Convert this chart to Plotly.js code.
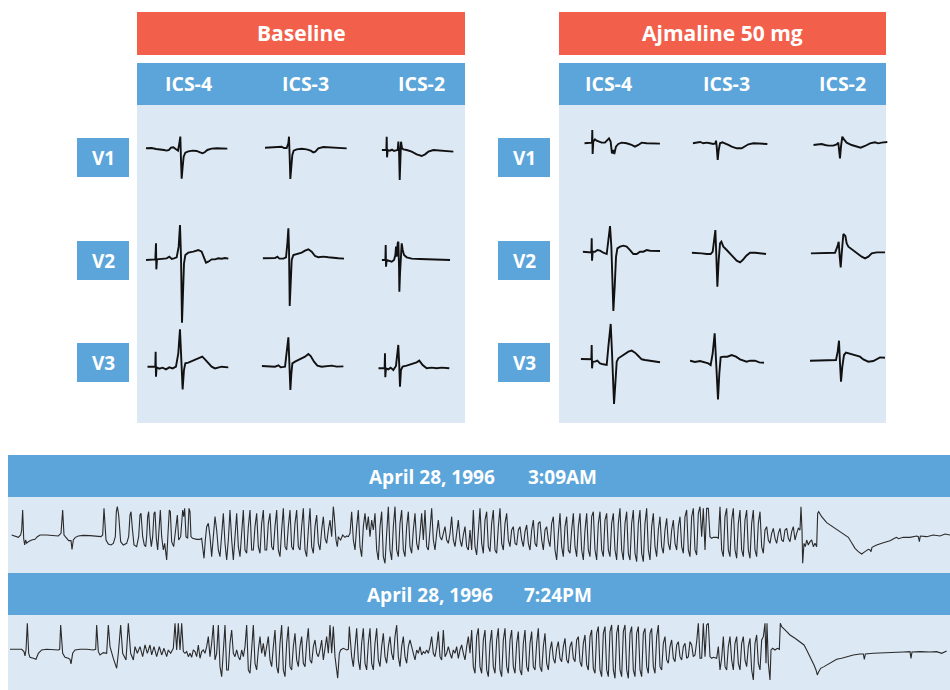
<!DOCTYPE html>
<html><head><meta charset="utf-8">
<script src="https://cdn.plot.ly/plotly-3.0.1.min.js"></script>
<style>html,body{margin:0;padding:0;background:#fff}</style>
</head><body><div id="chart" style="width:950px;height:690px"></div>
<script>
// ---------- DATA: each complex as [time, amplitude] samples (arbitrary units) ----------
const panels = ["Baseline", "Ajmaline 50 mg"];
const icsLabels = ["ICS-4", "ICS-3", "ICS-2"];
const leads = ["V1", "V2", "V3"];
const strip1Date = "April 28, 1996", strip1Time = "3:09AM";
const strip2Date = "April 28, 1996", strip2Time = "7:24PM";

const b_v1_ics4 = [[0,0],[17,1],[30,-2],[42,-3],[54,-5],[62,-7],[69,-5],[75,2],[82,3],[90,-3],[96,-7],[100,15],[103,35],[105,-35],[107,-91],[110,-55],[113,-25],[118,-13],[127,-9],[140,-7],[152,-8],[162,-12],[170,-15],[177,-11],[184,-5],[197,-1],[212,0],[244,-1]];
const b_v1_ics3 = [[0,0],[15,1],[30,0],[43,2],[50,3],[57,-1],[65,-1],[70,13],[72,33],[74,-27],[76,-94],[79,-57],[82,-22],[86,-9],[95,-5],[110,-3],[125,-5],[137,-9],[145,-14],[151,-12],[160,-2],[175,2],[195,1],[215,0],[245,-2]];
const b_v1_ics2 = [[0,0],[11,0],[14,0],[15,40],[16,-22],[18,0],[25,-2],[31,1],[37,-3],[43,-1],[48,0],[50,25],[52,-2],[54,-90],[56,-30],[58,25],[61,5],[65,2],[75,0],[90,-5],[105,-13],[120,-18],[130,-13],[140,-5],[155,0],[175,-2],[215,-5]];
const b_v2_ics4 = [[0,0],[22,0],[28,2],[30,50],[31,-28],[33,2],[42,3],[52,2],[62,5],[70,10],[77,3],[84,5],[92,8],[98,40],[102,105],[105,10],[108,-188],[111,-100],[114,-10],[118,15],[127,22],[142,25],[157,30],[167,25],[174,5],[180,-8],[187,-5],[197,2],[207,2],[217,5],[227,4],[237,6],[247,4]];
const b_v2_ics3 = [[0,0],[22,0],[37,1],[44,5],[50,-1],[62,-1],[70,3],[74,45],[77,90],[79,25],[81,-143],[84,-75],[87,-5],[92,10],[102,13],[117,17],[127,23],[137,27],[147,20],[157,7],[167,3],[182,5],[197,3],[212,1],[227,0],[244,-1]];
const b_v2_ics2 = [[0,0],[9,0],[11,0],[12,45],[13,-20],[15,0],[23,-2],[30,-5],[37,0],[41,15],[43,40],[45,10],[48,50],[50,55],[52,-20],[53,-95],[55,-40],[58,30],[60,50],[63,30],[67,15],[75,8],[90,4],[115,3],[145,2],[175,2],[205,0]];
const b_v3_ics4 = [[0,0],[18,0],[24,0],[25,45],[26,-30],[28,-2],[36,-6],[46,-3],[56,-8],[66,-2],[76,-5],[86,0],[93,40],[98,112],[102,30],[106,-68],[110,-10],[114,10],[123,12],[138,18],[153,25],[165,30],[173,22],[183,10],[193,0],[203,-5],[213,-2],[223,0],[243,-2]];
const b_v3_ics3 = [[0,0],[20,0],[40,-2],[50,2],[57,-4],[70,-2],[75,38],[80,86],[83,8],[86,-72],[89,-22],[92,8],[100,13],[115,20],[130,28],[140,36],[147,30],[157,13],[167,1],[180,-2],[195,0],[210,1],[225,-2],[245,-1]];
const b_v3_ics2 = [[0,0],[15,0],[19,0],[20,45],[21,-27],[23,0],[30,-3],[37,2],[45,-5],[53,7],[60,70],[63,5],[65,-55],[68,-5],[73,5],[85,8],[100,13],[115,18],[123,23],[133,10],[145,0],[160,2],[175,0],[190,2],[213,0]];

const a_v1_ics4 = [[0,0],[17,2],[23,2],[24,40],[25,-32],[27,5],[32,12],[37,8],[45,5],[52,2],[62,2],[69,8],[74,15],[79,5],[83,-30],[87,-20],[90,-32],[95,-10],[102,-2],[112,2],[127,0],[142,-5],[152,-10],[162,-5],[172,2],[187,0],[207,0],[227,-1]];
const a_v1_ics3 = [[0,0],[12,2],[22,4],[32,0],[42,2],[52,0],[62,-2],[68,0],[70,8],[72,-10],[75,-50],[78,-20],[82,0],[89,3],[97,0],[107,-5],[117,-10],[132,-15],[147,-15],[157,-10],[167,-3],[182,0],[202,-1],[224,-2]];
const a_v1_ics2 = [[0,0],[15,1],[25,3],[35,0],[45,-2],[60,-2],[70,2],[75,7],[77,-15],[80,-40],[83,-5],[87,25],[92,17],[100,7],[115,0],[130,-5],[142,-8],[155,-3],[170,5],[185,8],[195,5],[205,7],[222,9]];
const a_v2_ics4 = [[0,0],[17,-2],[26,-2],[27,40],[28,-27],[30,0],[37,0],[44,5],[52,3],[62,-3],[72,-7],[77,35],[82,77],[86,15],[89,-85],[92,-178],[96,-105],[100,-15],[104,10],[112,15],[122,18],[132,15],[142,5],[152,-7],[162,-7],[172,0],[182,0],[192,5],[202,3],[217,2],[232,2]];
const a_v2_ics3 = [[0,0],[15,0],[30,-2],[45,-4],[57,-4],[63,3],[67,38],[71,68],[74,-12],[77,-102],[81,-22],[85,28],[89,33],[95,18],[105,8],[115,-2],[125,-12],[135,-24],[145,-29],[153,-22],[163,-10],[175,0],[190,0],[205,-2],[223,-4]];
const a_v2_ics2 = [[0,-2],[23,-1],[43,0],[63,1],[73,0],[80,18],[84,33],[87,-12],[90,-44],[93,-2],[96,38],[98,56],[104,50],[108,28],[113,18],[123,10],[138,-2],[153,-12],[163,-17],[173,-12],[183,-2],[198,1],[223,1]];
const a_v3_ics4 = [[0,1],[18,0],[32,0],[33,43],[34,-27],[36,-7],[43,-7],[50,-4],[58,-12],[68,-15],[78,-17],[83,38],[90,106],[94,18],[97,-72],[100,-134],[104,-72],[108,-7],[113,3],[123,10],[133,18],[143,23],[153,26],[163,20],[173,10],[183,0],[193,-2],[203,-4],[218,-7],[238,-9]];
const a_v3_ics3 = [[0,0],[15,-4],[30,-1],[45,-6],[55,-8],[62,-13],[68,22],[74,82],[78,2],[81,-58],[84,-116],[88,-38],[92,10],[100,12],[112,12],[125,17],[138,12],[150,4],[160,0],[170,-3],[180,0],[195,0],[208,-5],[222,-6]];
const a_v3_ics2 = [[0,0],[25,0],[50,0],[70,1],[78,2],[83,27],[87,60],[90,-8],[93,-63],[97,-18],[102,17],[108,24],[120,20],[135,17],[150,12],[160,4],[175,-3],[190,-1],[200,4],[210,10],[225,9]];

const strip1 = [[35,0],[45,-3],[55,-7],[62,0],[65,15],[68,75],[71,-10],[74,-30],[77,-15],[80,-25],[85,-20],[95,-15],[105,-13],[112,-5],[120,0],[140,0],[160,-2],[175,-3],[183,5],[188,75],[192,0],[200,-10],[206,-17],[213,-17],[216,-43],[220,-15],[226,-7],[235,-3],[250,-1],[270,-2],[290,-3],[303,-5],[308,0],[312,80],[318,-15],[325,-27],[333,-30],[340,-25],[346,-5],[349,70],[352,85],[356,60],[362,-20],[370,-30],[380,-25],[386,-5],[390,60],[393,70],[397,20],[402,-30],[410,-35],[416,-5],[420,60],[423,65],[428,-5],[433,-30],[437,-35],[440,-5],[443,55],[446,70],[450,0],[454,-35],[458,-5],[462,65],[465,70],[469,-10],[473,-45],[477,15],[481,75],[485,-5],[490,-45],[494,-25],[500,-75],[504,5],[508,75],[511,70],[515,-20],[521,-35],[527,25],[532,60],[536,-15],[542,-5],[548,75],[551,55],[554,80],[558,-5],[563,-10],[567,80],[570,70],[573,-5],[578,-10],[590,-13],[600,-13],[605,-10],[609,-45],[612,-70],[616,-15],[620,25],[625,35],[630,-5],[635,-65],[640,-5],[645,55],[650,15],[655,-45],[660,-65],[665,-5],[670,65],[675,-25],[680,-75],[685,-15],[690,75],[695,-15],[700,-75],[705,-5],[710,65],[715,-35],[720,-65],[725,5],[730,75],[735,-45],[740,-55],[745,25],[750,75],[755,-45],[760,-45],[765,25],[770,65],[775,-35],[780,-55],[785,35],[790,75],[795,-45],[800,-45],[805,35],[810,65],[815,-35],[820,-45],[825,25],[830,75],[835,-45],[840,-65],[845,15],[850,80],[855,-35],[860,-45],[865,25],[870,75],[875,-35],[880,-45],[885,35],[890,75],[895,-35],[900,-45],[905,25],[910,80],[915,-45],[920,-65],[925,15],[930,80],[935,-35],[940,-55],[945,25],[950,60],[955,-25],[960,-45],[965,15],[970,55],[975,-10],[980,-25],[985,15],[990,45],[995,-5],[1000,85],[1003,55],[1008,-15],[1012,-35],[1015,-5],[1018,-10],[1022,-15],[1028,0],[1035,-7],[1040,-3],[1045,-5],[1050,5],[1055,70],[1060,-15],[1065,-45],[1070,25],[1075,75],[1080,-35],[1085,-65],[1090,25],[1095,65],[1100,15],[1105,55],[1110,-5],[1115,45],[1120,15],[1125,65],[1130,-45],[1135,-75],[1140,25],[1145,70],[1150,-65],[1155,-85],[1160,5],[1165,85],[1170,-45],[1175,-75],[1180,25],[1185,85],[1190,-45],[1195,-65],[1200,35],[1205,75],[1210,-45],[1215,-65],[1220,25],[1225,70],[1230,-35],[1235,-55],[1240,15],[1245,65],[1250,-25],[1255,-45],[1260,5],[1265,65],[1270,-15],[1275,75],[1280,-35],[1285,-45],[1290,15],[1295,80],[1300,-15],[1305,-45],[1310,5],[1315,45],[1320,-5],[1325,-15],[1330,5],[1335,25],[1340,-15],[1345,-25],[1350,5],[1355,55],[1360,-15],[1365,-35],[1370,5],[1375,45],[1380,-15],[1385,-35],[1390,0],[1395,25],[1400,-35],[1405,-45],
[1410,15],[1415,-45],[1420,75],[1425,-35],[1430,-60],[1435,25],[1440,80],[1445,-25],[1450,-55],[1455,45],[1460,70],[1465,-35],[1470,-50],[1475,35],[1480,75],[1485,-45],[1490,-55],[1495,25],[1500,80],[1505,-25],[1510,-45],[1515,35],[1520,65],[1525,-15],[1530,-35],[1535,15],[1540,25],[1545,-25],[1550,-30],[1555,15],[1560,25],[1565,-15],[1570,-35],[1575,10],[1580,30],[1585,-25],[1590,-45],[1595,15],[1600,45],[1605,-25],[1610,-35],[1615,35],[1620,40],[1625,-15],[1630,-45],[1635,15],[1640,25],[1645,-15],[1650,-35],[1655,35],[1660,55],[1665,-45],[1670,-75],[1675,5],[1680,65],[1685,-35],[1690,-65],[1695,25],[1700,55],[1705,-45],[1710,-55],[1715,15],[1720,65],[1725,-35],[1730,-65],[1735,25],[1740,65],[1745,-45],[1750,-75],[1755,15],[1760,65],[1765,-45],[1770,-65],[1775,55],[1780,70],[1785,-45],[1790,-75],[1795,35],[1800,70],[1805,-45],[1810,-65],[1815,45],[1820,65],[1825,-45],[1830,-65],[1835,35],[1840,65],[1845,-45],[1850,-75],[1855,35],[1860,80],[1865,-45],[1870,-75],[1875,35],[1880,70],[1885,-55],[1890,-75],[1895,35],[1900,75],[1905,-55],[1910,-80],[1915,35],[1920,75],[1925,-55],[1930,-80],[1935,35],[1940,80],[1945,-45],[1950,-75],[1955,25],[1960,65],[1965,-35],[1970,-65],[1975,15],[1980,55],[1985,-35],[1990,-55],[1995,15],[2000,50],[2005,-25],[2010,-45],[2015,15],[2020,45],[2025,-25],[2030,-45],[2035,25],[2040,55],[2045,-35],[2050,-55],[2055,55],[2060,75],[2065,-45],[2070,-65],[2075,55],[2080,80],[2085,-45],[2090,-60],[2095,65],[2100,85],[2105,-5],[2110,80],[2115,-45],[2120,80],[2125,80],[2130,-5],[2135,-10],[2140,-7],[2150,-7],[2155,-10],[2160,85],[2165,-45],[2170,-65],[2175,55],[2180,80],[2185,-45],[2190,-65],[2195,45],[2200,80],[2205,-45],[2210,-70],[2215,35],[2220,75],[2225,-45],[2230,-65],[2235,45],[2240,75],[2245,-45],[2250,-70],[2255,35],[2260,75],[2265,-45],[2270,-65],[2275,35],[2280,70],[2285,-35],[2290,-55],[2295,15],[2300,25],[2305,-15],[2310,-25],[2315,5],[2320,20],[2325,-10],[2330,-25],[2335,5],[2340,20],[2345,-15],[2350,-20],[2355,15],[2360,20],[2365,-10],[2370,-20],[2375,10],[2380,25],[2385,-15],[2390,5],[2395,20],[2400,15],[2403,85],[2406,15],[2408,-85],[2412,-25],[2416,-35],[2420,-15],[2425,-30],[2430,-20],[2435,-15],[2440,-35],[2445,-25],[2450,-35],[2453,65],[2456,70],[2465,55],[2480,37],[2500,23],[2520,10],[2535,0],[2545,-7],[2555,-23],[2565,-40],[2575,-50],[2585,-57],[2595,-50],[2605,-43],[2610,-45],[2613,-50],[2616,-37],[2630,-30],[2650,-23],[2670,-17],[2685,-9],[2690,-7],[2695,-11],[2710,-7],[2730,-7],[2750,-3],[2755,-5],[2758,-20],[2761,-3],[2780,-5],[2800,0],[2820,-3],[2835,3],[2850,0]];

const strip2 = [[30,0],[65,0],[72,-7],[75,-20],[78,-2],[82,78],[86,-12],[90,-24],[100,-27],[108,-30],[115,-12],[125,-2],[140,0],[160,-2],[175,-2],[179,0],[182,73],[188,-12],[195,-24],[205,-27],[210,-30],[213,-44],[218,-12],[225,-2],[240,0],[260,0],[280,-2],[287,0],[290,73],[295,-7],[300,-17],[310,-10],[320,-12],[325,73],[330,8],[340,-27],[350,-57],[355,-12],[362,73],[368,-12],[378,-32],[385,78],[392,-12],[400,-32],[405,8],[412,-12],[420,8],[428,-22],[435,13],[442,-12],[450,13],[455,-17],[462,8],[470,-22],[478,8],[485,-17],[492,3],[500,-22],[505,-2],[512,-12],[520,3],[525,78],[530,-2],[535,78],[540,-2],[545,78],[550,-7],[555,-12],[560,-7],[565,-22],[570,-12],[575,-24],[580,-2],[585,-7],[590,-22],[595,13],[600,-27],[605,-7],[610,-2],[615,-12],[620,8],[625,38],[630,-22],[635,18],[640,73],[645,-32],[650,-12],[655,73],[660,-52],[665,-82],[670,8],[675,73],[680,-62],[685,-62],[690,18],[695,58],[700,-12],[705,-22],[710,-2],[715,-22],[720,-32],[725,-2],[730,-22],[735,8],[740,73],[745,-62],[750,-72],[755,18],[760,73],[765,-42],[770,-62],[775,-2],[780,38],[785,-12],[790,18],[795,-22],[800,8],[805,38],[810,-32],[815,-52],[820,8],[825,58],[830,-52],[835,-72],[840,18],[845,73],[850,-62],[855,-82],[860,18],[865,68],[870,-52],[875,-62],[880,8],[885,48],[890,-32],[895,-52],[900,8],[905,38],[910,-42],[915,-52],[920,18],[925,63],[930,-32],[935,-42],[940,8],[945,28],[950,-12],[955,-22],[960,-2],[965,28],[970,-32],[975,8],[980,38],[985,-12],[990,73],[995,-12],[1000,68],[1005,-22],[1010,-62],[1013,-87],[1018,-12],[1022,-2],[1030,3],[1040,-2],[1045,0],[1048,68],[1055,-22],[1060,-52],[1065,8],[1070,63],[1075,-32],[1080,-62],[1085,18],[1090,63],[1095,-42],[1100,-62],[1105,18],[1110,63],[1115,-42],[1120,-62],[1125,18],[1130,63],[1135,-32],[1140,-52],[1145,8],[1150,48],[1155,-22],[1160,-42],[1165,8],[1170,38],[1175,-12],[1180,-32],[1185,38],[1190,73],[1195,-22],[1200,-52],[1205,8],[1210,38],[1215,-22],[1220,-42],[1225,8],[1230,28],[1240,-12],[1245,-32],[1250,-2],[1255,-12],[1260,8],[1265,-17],[1270,-7],[1275,-12],[1280,-2],[1285,-12],[1290,8],[1295,38],[1300,-12],[1305,-22],[1310,8],[1315,53],[1320,-22],[1325,-32],[1330,58],[1335,-22],[1340,-12],[1345,8],[1350,-12],[1355,-27],[1360,-2],[1365,-12],[1370,8],[1375,-27],[1380,-2],[1385,13],[1390,-12],[1395,-32],[1400,8],[1405,38],
[1410,-12],[1415,58],[1420,-52],[1425,-72],[1430,38],[1435,63],[1440,-52],[1445,-72],[1450,28],[1455,58],[1460,-62],[1465,-82],[1470,18],[1475,58],[1480,-52],[1485,-72],[1490,28],[1495,63],[1500,-62],[1505,-82],[1510,28],[1515,63],[1520,-52],[1525,-72],[1530,28],[1535,58],[1540,-52],[1545,-72],[1550,18],[1555,53],[1560,-62],[1565,-77],[1570,18],[1575,58],[1580,-52],[1585,-67],[1590,18],[1595,53],[1600,-52],[1605,-62],[1610,18],[1615,63],[1620,-52],[1625,-67],[1630,8],[1635,48],[1640,-42],[1645,-62],[1650,-2],[1655,23],[1660,-27],[1665,-42],[1670,3],[1675,23],[1680,-27],[1685,-37],[1690,8],[1695,33],[1700,-32],[1705,-42],[1710,8],[1715,23],[1720,-27],[1725,-37],[1730,28],[1735,38],[1740,-37],[1745,-52],[1750,18],[1755,43],[1760,-47],[1765,-62],[1770,38],[1775,58],[1780,-57],[1785,-72],[1790,48],[1795,68],[1800,-62],[1805,-82],[1810,48],[1815,68],[1820,-62],[1825,-82],[1830,53],[1835,73],[1840,-62],[1845,-87],[1850,48],[1855,73],[1860,-62],[1865,-82],[1870,53],[1875,73],[1880,-62],[1885,-87],[1890,48],[1895,68],[1900,-62],[1905,-82],[1910,48],[1915,68],[1920,-62],[1925,-82],[1930,48],[1935,63],[1940,-52],[1945,-72],[1950,48],[1955,63],[1960,-52],[1965,-72],[1970,38],[1975,73],[1980,-52],[1985,-62],[1990,18],[1995,38],[2000,-32],[2005,-42],[2010,8],[2015,28],[2020,-27],[2025,-37],[2030,13],[2035,23],[2040,-22],[2045,-32],[2050,8],[2055,18],[2060,-27],[2065,-22],[2070,23],[2075,13],[2080,-22],[2085,-17],[2090,23],[2095,78],[2100,-27],[2105,-27],[2110,78],[2115,-22],[2120,73],[2125,78],[2130,-22],[2135,-27],[2140,-24],[2150,-27],[2155,8],[2160,-62],[2165,-27],[2170,38],[2175,-52],[2180,-62],[2185,8],[2190,38],[2195,-32],[2200,-62],[2205,18],[2210,38],[2215,-42],[2220,-62],[2225,18],[2230,38],[2235,-32],[2240,-52],[2245,8],[2250,33],[2255,-62],[2260,-92],[2265,18],[2270,43],[2275,-42],[2280,-62],[2285,28],[2290,38],[2295,78],[2298,-42],[2301,78],[2305,-42],[2310,-92],[2313,-2],[2318,3],[2325,-2],[2332,3],[2338,0],[2341,78],[2345,68],[2355,58],[2370,43],[2385,33],[2400,23],[2412,13],[2420,-2],[2428,-17],[2435,-32],[2442,-47],[2448,-62],[2452,-77],[2456,-67],[2462,-57],[2472,-52],[2485,-45],[2500,-37],[2510,-30],[2525,-27],[2540,-22],[2560,-17],[2580,-14],[2590,-14],[2593,-30],[2596,-14],[2620,-12],[2650,-10],[2680,-9],[2710,-8],[2730,-7],[2733,-27],[2736,-8],[2760,-7],[2790,-8],[2810,-7],[2825,-12],[2840,-5]];

// ---------- LAYOUT / STYLE ----------
const W = 950, H = 690;
const px = x => x / W, py = y => 1 - y / H;
const SCALE = 3;            // data units per screen pixel
const RED = '#F25F4A', BLUE = '#5BA5DA', LIGHT = '#DDE8F5';
const FONT = 'Open Sans, Lato, sans-serif';

const complexes = [
  {d: b_v1_ics4, left: 146,   base: 148.3}, {d: b_v1_ics3, left: 265,   base: 147.7}, {d: b_v1_ics2, left: 381.7, base: 150},
  {d: b_v2_ics4, left: 146,   base: 260},   {d: b_v2_ics3, left: 262.7, base: 258.3}, {d: b_v2_ics2, left: 381.7, base: 260},
  {d: b_v3_ics4, left: 147.3, base: 366.7}, {d: b_v3_ics3, left: 261.7, base: 366},   {d: b_v3_ics2, left: 378.3, base: 368.3},
  {d: a_v1_ics4, left: 584.3, base: 143.3}, {d: a_v1_ics3, left: 692.7, base: 143.3}, {d: a_v1_ics2, left: 813.3, base: 145},
  {d: a_v2_ics4, left: 582.7, base: 251.7}, {d: a_v2_ics3, left: 691.7, base: 252.7}, {d: a_v2_ics2, left: 810.7, base: 252.7},
  {d: a_v3_ics4, left: 580.7, base: 359.3}, {d: a_v3_ics3, left: 690,   base: 360.7}, {d: a_v3_ics2, left: 810,   base: 360.7}
];

const traces = [];
const layout = {
  width: W, height: H, margin: {l: 0, r: 0, t: 0, b: 0},
  paper_bgcolor: '#ffffff', plot_bgcolor: 'rgba(0,0,0,0)', showlegend: false,
  shapes: [], annotations: [], hovermode: false
};

let k = 0;
function addAxis(xDom, xRange, yDom, yRange) {
  k += 1;
  const s = k === 1 ? '' : String(k);
  layout['xaxis' + s] = {domain: xDom, range: xRange, visible: false, fixedrange: true, anchor: 'y' + s};
  layout['yaxis' + s] = {domain: yDom, range: yRange, visible: false, fixedrange: true, anchor: 'x' + s};
  return s;
}

complexes.forEach(c => {
  const span = 90, half = 70;
  const s = addAxis([px(c.left), px(c.left + span)], [0, span * SCALE],
                    [py(c.base + half), py(c.base - half)], [-half * SCALE, half * SCALE]);
  traces.push({x: c.d.map(p => p[0]), y: c.d.map(p => p[1]), xaxis: 'x' + s, yaxis: 'y' + s,
    type: 'scatter', mode: 'lines', line: {color: '#111111', width: 1.9}, hoverinfo: 'skip'});
});

[{d: strip1, top: 497, bot: 573, base: 535}, {d: strip2, top: 615, bot: 690, base: 649.3}].forEach(st => {
  const s = addAxis([0, 1], [0, W * SCALE], [py(st.bot), py(st.top)],
                    [-(st.bot - st.base) * SCALE, (st.base - st.top) * SCALE]);
  traces.push({x: st.d.map(p => p[0]), y: st.d.map(p => p[1]), xaxis: 'x' + s, yaxis: 'y' + s,
    type: 'scatter', mode: 'lines', line: {color: '#2a2a2a', width: 1.1}, hoverinfo: 'skip'});
});

function rect(x0, y0, x1, y1, color) {
  layout.shapes.push({type: 'rect', xref: 'paper', yref: 'paper', layer: 'below',
    x0: px(x0), x1: px(x1), y0: py(y1), y1: py(y0), fillcolor: color, line: {width: 0}});
}
function label(text, x, y, size) {
  layout.annotations.push({text: text, xref: 'paper', yref: 'paper', x: px(x), y: py(y),
    xanchor: 'center', yanchor: 'middle', showarrow: false,
    font: {family: FONT, size: size, color: '#ffffff', weight: 700}});
}

// top panels
const panelX = [[137, 465], [559, 886]];
const icsX = [[188, 305, 421], [608, 726, 842]];
const leadBoxX = [[77, 129], [498, 550]];
const leadY = [[138, 177], [241, 280], [343, 382]];
panelX.forEach((pX, i) => {
  rect(pX[0], 12, pX[1], 55, RED);
  rect(pX[0], 63, pX[1], 105, BLUE);
  rect(pX[0], 105, pX[1], 423, LIGHT);
  label(panels[i], (pX[0] + pX[1]) / 2, 33, 21);
  icsLabels.forEach((t, j) => label(t, icsX[i][j], 84, 19.5));
  leads.forEach((t, j) => {
    rect(leadBoxX[i][0], leadY[j][0], leadBoxX[i][1], leadY[j][1], BLUE);
    label(t, (leadBoxX[i][0] + leadBoxX[i][1]) / 2, (leadY[j][0] + leadY[j][1]) / 2, 19);
  });
});

// bottom strips
rect(8, 455, 950, 497, BLUE); rect(8, 497, 950, 573, LIGHT);
rect(8, 573, 950, 615, BLUE); rect(8, 615, 950, 690, LIGHT);
label(strip1Date, 432, 477, 19); label(strip1Time, 562, 477, 19);
label(strip2Date, 430, 595, 19); label(strip2Time, 558, 595, 19);

Plotly.newPlot('chart', traces, layout, {staticPlot: true, displayModeBar: false});
</script>
</body></html>
